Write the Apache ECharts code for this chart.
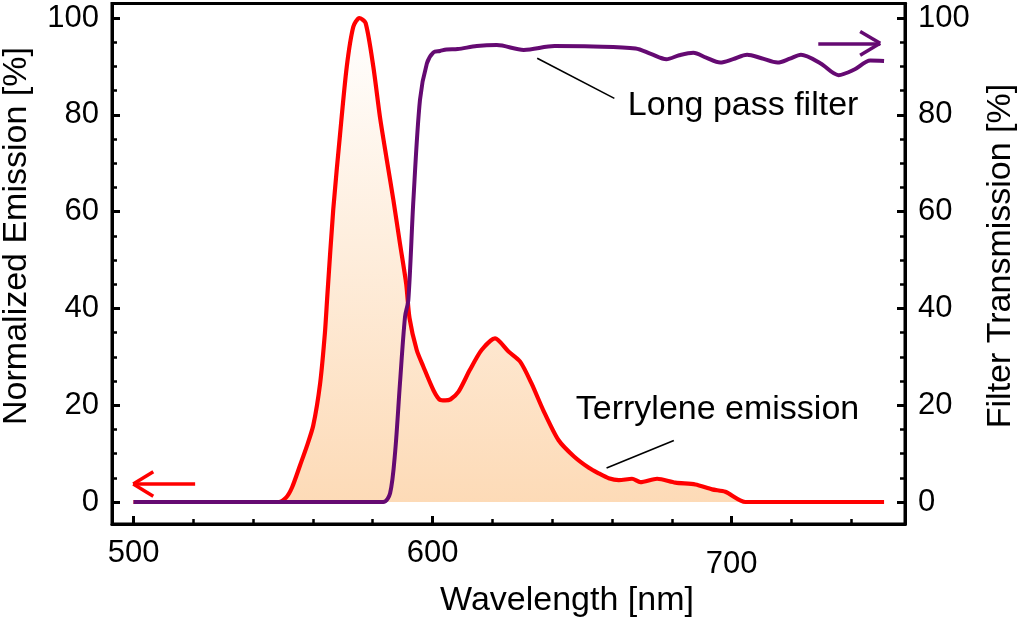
<!DOCTYPE html>
<html>
<head>
<meta charset="utf-8">
<script src="https://cdn.jsdelivr.net/npm/echarts@6/dist/echarts.min.js"></script>
<style>
html,body{margin:0;padding:0;background:#fff;}
#chart{width:1024px;height:619px;}
</style>
</head>
<body>
<div id="chart"></div>
<script>
// ---- Data ----
const emissionNm  = [500, 548.5, 551, 553, 555.7, 558, 560.1, 562.4, 564.0, 564.8, 566.8, 569.1, 571.3, 573.5, 575.5, 577.6, 580.2, 582.4, 584.7, 586.9, 589.1, 591.2, 592.3, 594.7, 596.9, 600.3, 602.5, 604.2, 606, 608.7, 612.5, 616.4, 620.9, 625.4, 629.3, 633.1, 637.0, 642.1, 647.3, 652.4, 655.6, 658.9, 662.3, 666.7, 669.5, 675.1, 681.2, 687.9, 693.5, 697.9, 704.6, 751];
const emissionVal = [0, 0, 0.9, 3.0, 7.6, 11.6, 15.8, 24.5, 34.9, 42.5, 60.5, 76.2, 89.9, 98.2, 100, 99.0, 89.9, 79.6, 70.7, 62.4, 53.4, 45.0, 38.0, 31.4, 28.0, 23.1, 21.1, 21.0, 21.2, 22.8, 27.3, 31.4, 33.8, 31.1, 29.0, 24.5, 19.0, 12.8, 9.4, 7.0, 5.9, 4.9, 4.5, 4.8, 4.1, 4.8, 4.0, 3.6, 2.6, 2.1, 0, 0];

const filterNm  = [500, 583.5, 585.8, 587.5, 589.1, 590.8, 591.9, 593.6, 595.8, 598.1, 600.3, 602.5, 604.7, 608.4, 614.8, 621.5, 630.5, 640.8, 653.7, 667.9, 673, 678.2, 682.5, 687.2, 691.5, 696.2, 700.5, 705.2, 710, 715.4, 719.5, 723.2, 729.8, 735.8, 740.9, 746.4, 751];
const filterVal = [0, 0, 1.8, 10.4, 24.5, 38.3, 41.7, 62.4, 83.1, 90.6, 92.9, 93.2, 93.5, 93.6, 94.2, 94.4, 93.4, 94.2, 94.1, 93.7, 92.6, 91.5, 92.3, 92.8, 91.8, 90.8, 91.5, 92.4, 91.7, 90.8, 91.6, 92.4, 90.6, 88.2, 89.3, 91.2, 91.1];

const xMajorTicks = [500, 600, 700];
const xMinorTicks = [500, 520, 540, 560, 580, 600, 620, 640, 660, 680, 700, 720, 740];
const yMajorTicks = [0, 20, 40, 60, 80, 100];
const yMinorTicks = [0, 5, 10, 15, 20, 25, 30, 35, 40, 45, 50, 55, 60, 65, 70, 75, 80, 85, 90, 95, 100];

const emissionPairs = emissionNm.map((x, i) => [x, emissionVal[i]]);
const filterPairs = filterNm.map((x, i) => [x, filterVal[i]]);

const FONT = 'Liberation Sans, Arial, Helvetica, sans-serif';
const X_MIN = 492.8, X_MAX = 758, Y_MIN = -4.55, Y_MAX = 103;

const chart = echarts.init(document.getElementById('chart'), null, {renderer: 'canvas'});

function yAxisDef(pos, ticks, len, labels, width) {
  return {
    type: 'value', position: pos, min: Y_MIN, max: Y_MAX,
    axisLine: {show: true, onZero: false, lineStyle: {color: '#000', width: 3}},
    axisTick: {show: true, inside: true, length: len, customValues: ticks, lineStyle: {color: '#000', width: width}},
    axisLabel: labels ? {show: true, customValues: yMajorTicks, margin: 13, color: '#000', fontSize: 31, fontFamily: FONT} : {show: false},
    splitLine: {show: false}
  };
}

chart.setOption({
  animation: false,
  backgroundColor: '#fff',
  grid: {left: 112, right: 119, top: 3.5, bottom: 95, show: true, borderColor: '#000', borderWidth: 3, containLabel: false},
  xAxis: [
    {
      type: 'value', position: 'bottom', min: X_MIN, max: X_MAX,
      axisLine: {show: true, onZero: false, lineStyle: {color: '#000', width: 3}},
      axisTick: {show: true, inside: true, length: 8, customValues: xMajorTicks, lineStyle: {color: '#000', width: 3}},
      axisLabel: {
        show: true, customValues: xMajorTicks, margin: 14, color: '#000', fontSize: 31, fontFamily: FONT,
        formatter: v => v === 700 ? '{b|700}' : '{a|' + v + '}',
        rich: {
          a: {fontSize: 31, fontFamily: FONT, color: '#000'},
          b: {fontSize: 31, fontFamily: FONT, color: '#000', padding: [11, 0, 0, 0]}
        }
      },
      splitLine: {show: false}
    },
    {
      type: 'value', position: 'bottom', min: X_MIN, max: X_MAX,
      axisLine: {show: false, onZero: false},
      axisTick: {show: true, inside: true, length: 5, customValues: xMinorTicks, lineStyle: {color: '#000', width: 2.5}},
      axisLabel: {show: false},
      splitLine: {show: false}
    }
  ],
  yAxis: [
    yAxisDef('left', yMajorTicks, 8, true, 3),
    yAxisDef('right', yMajorTicks, 8, true, 3),
    yAxisDef('left', yMinorTicks, 5, false, 2.5),
    yAxisDef('right', yMinorTicks, 5, false, 2.5)
  ],
  series: [
    {
      name: 'Terrylene emission', type: 'line', xAxisIndex: 0, yAxisIndex: 0,
      data: emissionPairs, smooth: 0.25, showSymbol: false, symbol: 'none',
      lineStyle: {color: '#ff0000', width: 4.2},
      areaStyle: {
        color: new echarts.graphic.LinearGradient(0, 0, 0, 1, [
          {offset: 0, color: '#ffffff'},
          {offset: 1, color: '#fccb98'}
        ])
      },
      markLine: {
        silent: true, symbol: ['none', 'none'], label: {show: false},
        lineStyle: {color: '#ff0000', width: 3.5, type: 'solid'},
        data: [
          [{coord: [499.9, 3.72]}, {coord: [520.6, 3.72]}],
          [{coord: [499.9, 3.72]}, {coord: [506.6, 6.26]}],
          [{coord: [499.9, 3.72]}, {coord: [506.6, 1.2]}],
          [{coord: [658.2, 7.0], lineStyle: {color: '#000', width: 1.6}}, {coord: [680.7, 12.7]}],
          [{coord: [635.0, 91.7], lineStyle: {color: '#000', width: 1.6}}, {coord: [660.8, 83.4]}]
        ]
      },
      markPoint: {
        silent: true, symbol: 'circle', symbolSize: 0,
        label: {show: true, position: 'right', distance: 0, formatter: '{b}', color: '#000', fontSize: 34, fontFamily: FONT},
        data: [
          {name: 'Long pass filter', coord: [665.3, 81.8]},
          {name: 'Terrylene emission', coord: [647.9, 19.0]}
        ]
      },
      z: 2
    },
    {
      name: 'Long pass filter', type: 'line', xAxisIndex: 0, yAxisIndex: 1,
      data: filterPairs, smooth: 0.3, showSymbol: false, symbol: 'none',
      lineStyle: {color: '#650a72', width: 4},
      markLine: {
        silent: true, symbol: ['none', 'none'], label: {show: false},
        lineStyle: {color: '#650a72', width: 3.5, type: 'solid'},
        data: [
          [{coord: [729.0, 94.77]}, {coord: [749.7, 94.77]}],
          [{coord: [749.7, 94.77]}, {coord: [743.0, 97.2]}],
          [{coord: [749.7, 94.77]}, {coord: [743.0, 92.3]}]
        ]
      },
      z: 3
    }
  ],
  graphic: [
    {type: 'text', x: 17, y: 236, rotation: Math.PI / 2,
     style: {text: 'Normalized Emission [%]', font: '34px ' + FONT, fill: '#000', align: 'center', verticalAlign: 'middle', textAlign: 'center', textVerticalAlign: 'middle'}},
    {type: 'text', x: 1001, y: 256, rotation: Math.PI / 2,
     style: {text: 'Filter Transmission [%]', font: '34px ' + FONT, fill: '#000', align: 'center', verticalAlign: 'middle', textAlign: 'center', textVerticalAlign: 'middle'}},
    {type: 'text', x: 567, y: 601,
     style: {text: 'Wavelength [nm]', font: '34px ' + FONT, fill: '#000', align: 'center', verticalAlign: 'middle', textAlign: 'center', textVerticalAlign: 'middle'}}
  ]
});
</script>
</body>
</html>
